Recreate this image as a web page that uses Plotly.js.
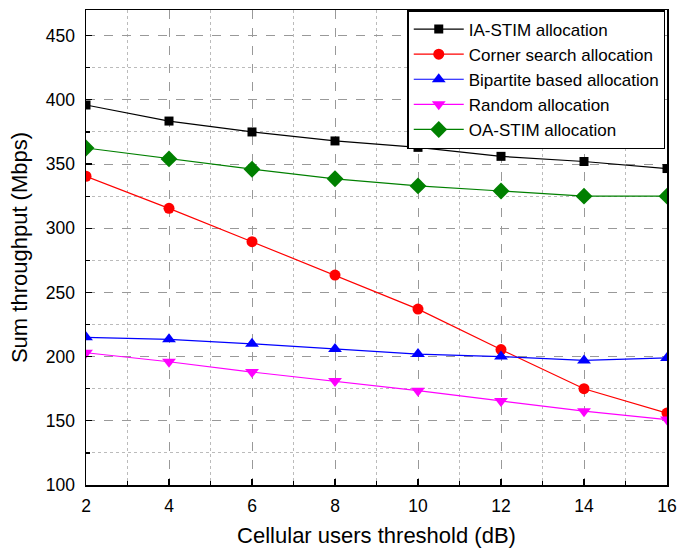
<!DOCTYPE html>
<html><head><meta charset="utf-8">
<script src="https://cdn.plot.ly/plotly-3.0.1.min.js"></script>
<style>html,body{margin:0;padding:0;background:#fff}#c{width:677px;height:548px}</style>
</head><body><div id="c"></div>
<script>
const xVals = [2, 4, 6, 8, 10, 12, 14, 16];
const iaStim = [396, 383.5, 375, 368, 363, 356, 352, 346.5];
const cornerSearch = [340.5, 315.5, 289.5, 263.5, 237, 205.5, 175, 156];
const bipartite = [215, 213.5, 210, 206, 202, 200, 197, 199];
const randomAlloc = [203, 196, 188, 181, 173.5, 165.5, 157.5, 151];
const oaStim = [362.5, 354, 346, 338.5, 333, 329, 325, 325];
const seriesNames = ["IA-STIM allocation", "Corner search allocation", "Bipartite based allocation", "Random allocation", "OA-STIM allocation"];

const styles = [
  {color: "#000000", symbol: "square", size: 9},
  {color: "#ff0000", symbol: "circle", size: 11},
  {color: "#0000ff", symbol: "triangle-up", size: 12},
  {color: "#ff00ff", symbol: "triangle-down", size: 12},
  {color: "#008000", symbol: "diamond", size: 13}
];
const ys = [iaStim, cornerSearch, bipartite, randomAlloc, oaStim];
const traces = ys.map((y, i) => ({
  x: xVals, y: y, name: seriesNames[i], type: "scatter", mode: "lines+markers",
  line: {color: styles[i].color, width: 1.2},
  marker: {color: styles[i].color, symbol: styles[i].symbol, size: styles[i].size},
  cliponaxis: true
}));

const axisCommon = {
  showline: true, linecolor: "#000", linewidth: 1.5, mirror: true,
  ticks: "inside", ticklen: 6, tickcolor: "#000", tickwidth: 1.2,
  showgrid: true, gridcolor: "#999", griddash: "dash", gridwidth: 1,
  zeroline: false,
  tickfont: {family: "Liberation Sans, Arial, sans-serif", size: 17.5, color: "#000"}
};
const layout = {
  width: 677, height: 548,
  margin: {l: 86, r: 10, t: 10, b: 63},
  paper_bgcolor: "#fff", plot_bgcolor: "#fff",
  font: {family: "Liberation Sans, Arial, sans-serif", color: "#000"},
  xaxis: Object.assign({}, axisCommon, {
    range: [2, 16], dtick: 2, tick0: 2, ticklabelstandoff: 4,
    minor: {dtick: 1, ticks: "inside", ticklen: 4, tickcolor: "#000", showgrid: true, gridcolor: "#bbb", griddash: "dot", gridwidth: 1},
    title: {text: "Cellular users threshold (dB)", font: {size: 22}, standoff: 16}
  }),
  yaxis: Object.assign({}, axisCommon, {
    range: [100, 470], dtick: 50, tick0: 100, ticklabelstandoff: 6,
    minor: {dtick: 25, ticks: "inside", ticklen: 4, tickcolor: "#000", showgrid: true, gridcolor: "#bbb", griddash: "dot", gridwidth: 1},
    title: {text: "Sum throughput (Mbps)", font: {size: 22}, standoff: 12}
  }),
  legend: {
    x: 0.997, xanchor: "right", y: 1, yanchor: "top",
    bgcolor: "#fff", bordercolor: "#000", borderwidth: 1.5,
    font: {size: 17, color: "#000"}, tracegroupgap: 0, itemwidth: 50
  },
  showlegend: true
};
Plotly.newPlot("c", traces, layout, {displayModeBar: false, staticPlot: true});
</script></body></html>
